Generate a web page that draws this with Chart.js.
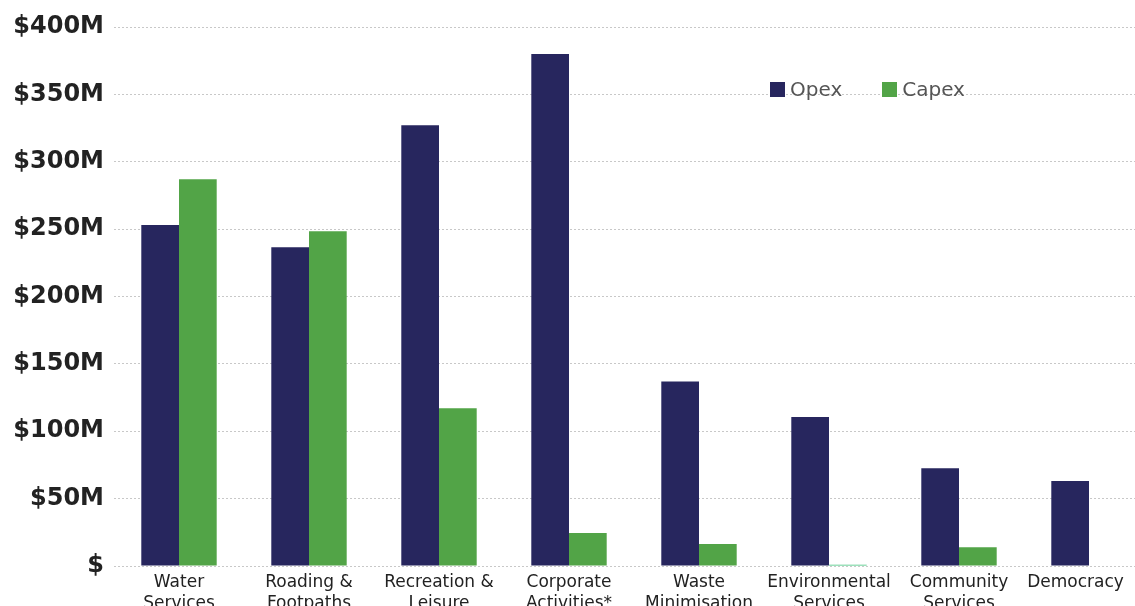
<!DOCTYPE html>
<html>
<head>
<meta charset="utf-8">
<script src="https://cdn.jsdelivr.net/npm/chart.js@4"></script>
<style>
  html, body { margin: 0; padding: 0; background: #fff; overflow: hidden; }
  #wrap { position: relative; width: 1135px; height: 606px; overflow: hidden; }
  #box { position: absolute; left: 0; top: 0; width: 1154px; height: 622px; }
  .legend { position: absolute; top: 77px; left: 770px; font-family: "DejaVu Sans", sans-serif;
            font-size: 20px; color: #555; display: flex; align-items: center; }
  .legend span.sw { display: inline-block; width: 15px; height: 15px; margin-right: 5px; }
  .legend .item { display: flex; align-items: center; margin-right: 40px; }
</style>
</head>
<body>
<div id="wrap">
  <div id="box"><canvas id="chart"></canvas></div>
  <div class="legend">
    <div class="item"><span class="sw" style="background:#27265e"></span>Opex</div>
    <div class="item"><span class="sw" style="background:#52a447"></span>Capex</div>
  </div>
</div>
<script>
// --- DATA ---
const categories = [
    ['Water', 'Services'],
    ['Roading &', 'Footpaths'],
    ['Recreation &', 'Leisure'],
    ['Corporate', 'Activities*'],
    ['Waste', 'Minimisation'],
    ['Environmental', 'Services'],
    ['Community', 'Services'],
    ['Democracy     ']   // trailing spaces nudge it left like the original
];
const opex  = [253, 236.5, 327, 380, 137, 110.5, 72.5, 63];
const capex = [287, 248.5, 117, 24.5, 16.3, 1, 14, null];
const yTicks = [0, 50, 100, 150, 200, 250, 300, 350, 400];

const navy = '#27265e';
const green = '#52a447';

const ctx = document.getElementById('chart');
new Chart(ctx.getContext('2d'), {
    type: 'bar',
    data: {
        labels: categories,
        datasets: [
            { label: 'Opex', data: opex, backgroundColor: navy, borderWidth: 0 },
            { label: 'Capex', data: capex,
              backgroundColor: capex.map(v => v !== null && v < 3 ? '#3cc47a' : green), borderWidth: 0 }
        ]
    },
    options: {
        responsive: true,
        maintainAspectRatio: false,
        animation: false,
        categoryPercentage: 0.58,
        barPercentage: 1.0,
        layout: { padding: { top: 27, left: 0, right: 0, bottom: 0 } },
        plugins: { legend: { display: false }, tooltip: { enabled: false } },
        scales: {
            x: {
                grid: { display: false },
                border: { display: false },
                ticks: {
                    color: '#222',
                    font: { family: 'DejaVu Sans', size: 17, lineHeight: 1.25 },
                    padding: -2,
                    maxRotation: 0,
                    autoSkip: false
                },
                afterFit: s => { s.height = 56; }
            },
            y: {
                min: 0,
                max: 400,
                afterBuildTicks: s => { s.ticks = yTicks.map(v => ({ value: v })); },
                grid: { color: '#c8c8c8', lineWidth: 1, drawTicks: false },
                border: { display: false, dash: [2, 2] },
                ticks: {
                    color: '#222',
                    font: { family: 'DejaVu Sans', size: 24, weight: 'bold' },
                    padding: 10,
                    callback: v => v === 0 ? '$' : '$' + v + 'M'
                },
                afterFit: s => { s.width = 114; }
            }
        }
    }
});
</script>
</body>
</html>
